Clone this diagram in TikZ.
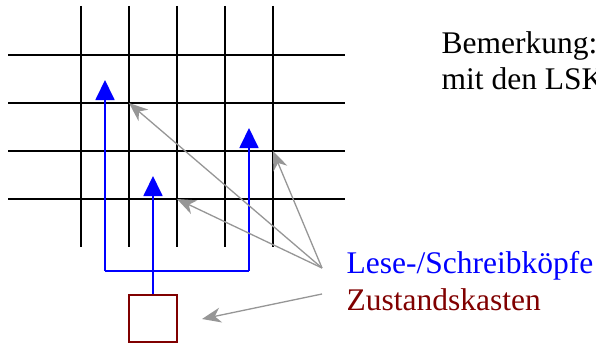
\documentclass[tikz,border=0pt]{standalone}
\usepackage{fontspec}
\setmainfont{Liberation Serif}
\usetikzlibrary{arrows.meta}
\definecolor{headblue}{RGB}{0,0,255}
\definecolor{boxred}{RGB}{128,0,0}
\definecolor{pointgray}{RGB}{150,150,150}
\tikzset{
  gridline/.style={black, line width=1.8pt},
  headline/.style={headblue, line width=1.8pt, -{Triangle[length=20pt,width=19pt]}},
  plainhead/.style={headblue, line width=1.8pt},
  pointer/.style={pointgray, line width=1.3pt, -{Stealth[length=19pt,width=15pt,inset=6pt]}},
  statebox/.style={draw=boxred, line width=1.8pt, minimum width=48pt, minimum height=47pt, inner sep=0pt},
  labeltext/.style={font=\fontsize{31.5}{36}\selectfont, inner sep=0pt, anchor=base west}
}
\begin{document}
\begin{tikzpicture}[x=1pt,y=-1pt]
\useasboundingbox (0,0) rectangle (596,345);
% grid
\foreach \gx in {81,129,177,225,273} {
  \draw[gridline] (\gx,6) -- (\gx,247);
}
\foreach \gy in {55,103,151,199} {
  \draw[gridline] (8,\gy) -- (345,\gy);
}
% grid intersections pointed at
\coordinate (cellA) at (129,103);
\coordinate (cellB) at (177,199);
\coordinate (cellC) at (273,151);
% state box
\node[statebox] (box) at (153,318.5) {};
% head connections
\coordinate (headL) at (105,80);
\coordinate (headM) at (153,176);
\coordinate (headR) at (249,128);
\coordinate (cornL) at (105,271);
\coordinate (cornR) at (249,271);
\draw[plainhead] (cornL) -- (cornR);
\draw[headline] (cornL) -- (headL);
\draw[headline] (cornR) -- (headR);
\draw[headline] (box.north) -- (headM);
% texts
\node[labeltext] (bem1) at (441.5,53.5) {Bemerkung:};
\node[labeltext] (bem2) at (441.5,89.5) {mit den LSK};
\node[labeltext, text=headblue] (lese) at (346.5,273.5) {Lese-/Schreibköpfe};
\node[labeltext, text=boxred] (zust) at (346.5,310.5) {Zustandskasten};
% pointers
\coordinate (srcHeads) at (322,268);
\coordinate (srcBox) at (322,294);
\coordinate (boxTip) at (202,319);
\draw[pointer] (srcHeads) -- (cellA);
\draw[pointer] (srcHeads) -- (cellB);
\draw[pointer] (srcHeads) -- (cellC);
\draw[pointer] (srcBox) -- (boxTip);
\end{tikzpicture}
\end{document}
